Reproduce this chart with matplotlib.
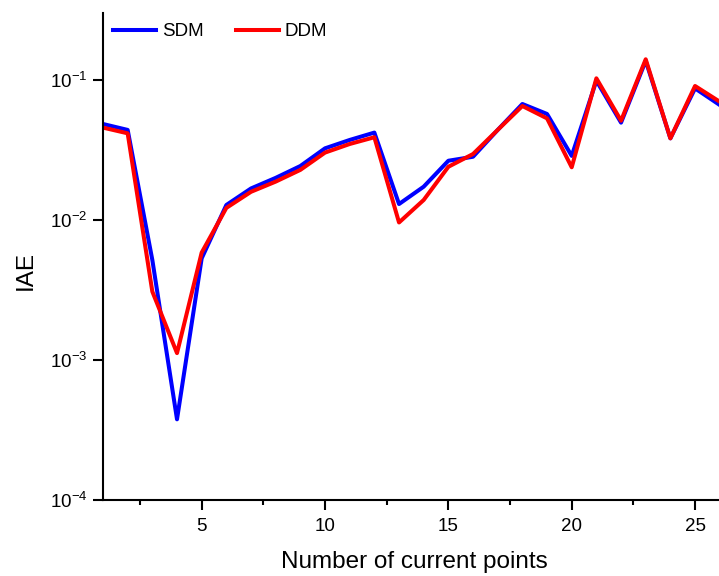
import matplotlib
matplotlib.use("Agg")
import matplotlib.pyplot as plt
from matplotlib.ticker import MultipleLocator, LogLocator, NullLocator

plt.rcParams['font.family'] = ['Liberation Sans', 'DejaVu Sans']
plt.rcParams['mathtext.fontset'] = 'custom'
plt.rcParams['mathtext.rm'] = 'Liberation Sans'
plt.rcParams['mathtext.it'] = 'Liberation Sans:italic'
plt.rcParams['mathtext.bf'] = 'Liberation Sans:bold'

points = list(range(1, 27))
sdm = [0.0485, 0.0440, 0.00518, 0.000377, 0.00532, 0.0128, 0.0168, 0.0200, 0.0243,
       0.0325, 0.0373, 0.0421, 0.0130, 0.0173, 0.0265, 0.0283, 0.0440, 0.0674,
       0.0572, 0.0287, 0.0989, 0.0496, 0.1370, 0.0383, 0.0871, 0.0663]
ddm = [0.0457, 0.0416, 0.00308, 0.00112, 0.00585, 0.0122, 0.0159, 0.0188, 0.0228,
       0.0303, 0.0349, 0.0390, 0.0096, 0.0139, 0.0240, 0.0296, 0.0440, 0.0652,
       0.0532, 0.0238, 0.1028, 0.0512, 0.1406, 0.0383, 0.0906, 0.0700]
series_labels = ['SDM', 'DDM']

fig = plt.figure(figsize=(7.19, 5.76), dpi=100)
ax = fig.add_axes([103/719, 1 - 500/576, 1 - 103/719 + 0.001, (500 - 13)/576])

ax.plot(points, sdm, color='#0000ff', lw=2.9, label=series_labels[0])
ax.plot(points, ddm, color='#ff0000', lw=2.9, label=series_labels[1])

ax.set_yscale('log')
ax.set_ylim(1e-4, 0.301)
ax.set_xlim(1, 26)
ax.xaxis.set_major_locator(MultipleLocator(5))
ax.xaxis.set_minor_locator(MultipleLocator(2.5))
ax.yaxis.set_major_locator(LogLocator(base=10, numticks=10))
ax.yaxis.set_minor_locator(NullLocator())

for s in ['top', 'right']:
    ax.spines[s].set_visible(False)
for s in ['left', 'bottom']:
    ax.spines[s].set_linewidth(1.5)

ax.tick_params(axis='both', which='major', direction='out', length=7, width=1.5,
               labelsize=13.5, pad=4)
ax.tick_params(axis='x', which='minor', direction='out', length=3.5, width=1.5)
ax.tick_params(axis='x', which='major', pad=6)

ax.set_xlabel('Number of current points', fontsize=17.5)
ax.set_ylabel('IAE', fontsize=17.5)
ax.xaxis.set_label_coords((414 - 103) / (719 - 103), -(51 - 0) / 487)
ax.yaxis.set_label_coords(-(103 - 37) / 616, (500 - 270) / 487)

ax.legend(loc='upper left', bbox_to_anchor=(0.0, 1.0), ncol=2, frameon=False,
          fontsize=13.5, handlelength=2.3, handletextpad=0.3, columnspacing=1.7,
          borderaxespad=0.35, borderpad=0.2)

fig.savefig('out.png', dpi=100)
